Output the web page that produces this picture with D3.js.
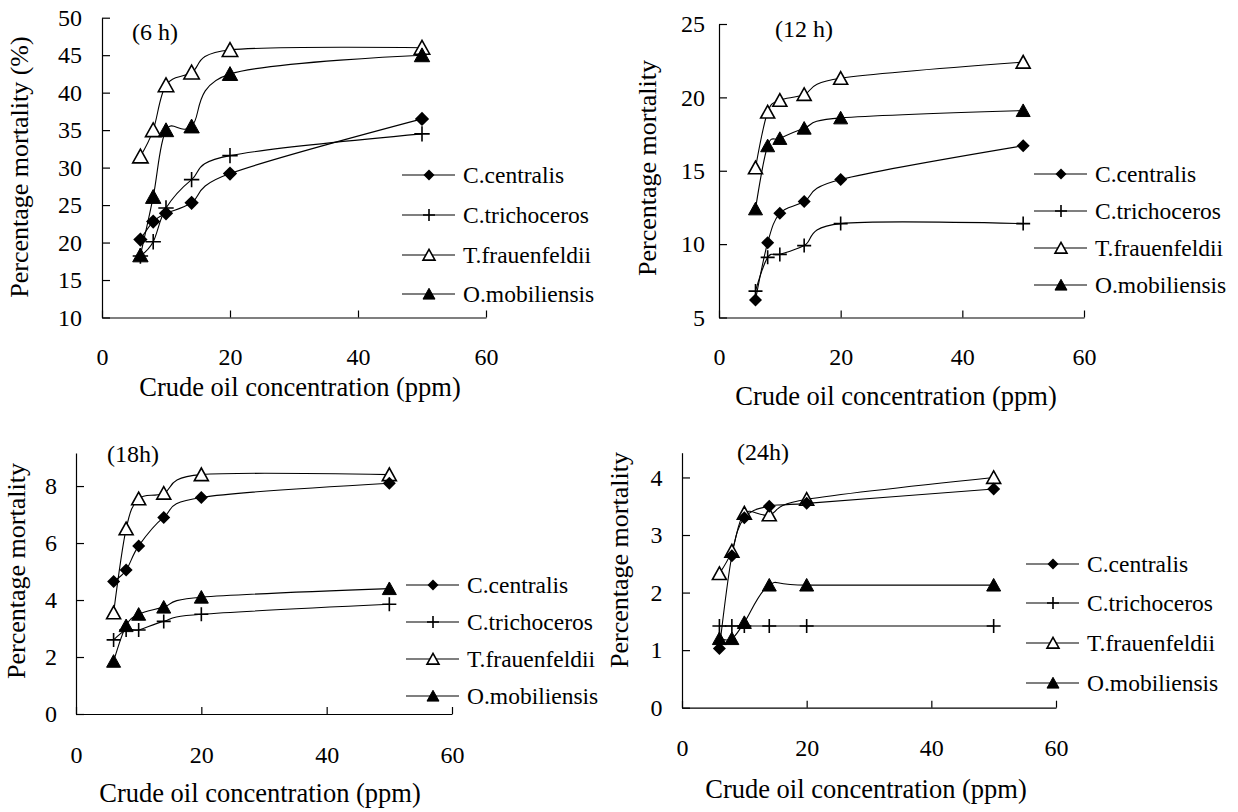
<!DOCTYPE html>
<html>
<head>
<meta charset="utf-8">
<script src="https://cdn.jsdelivr.net/npm/d3@7"></script>
<style>
  body { margin: 0; background: #fff; }
  svg { display: block; font-family: "Liberation Serif", "Times New Roman", serif; }
</style>
</head>
<body>
<div id="chart"></div>
<script>
// concentrations tested (ppm), same for every panel
let conc = [6, 8, 10, 14, 20, 50]
let species = ["C.centralis", "C.trichoceros", "T.frauenfeldii", "O.mobiliensis"]
let xTicks = [0, 20, 40, 60]

// 6 h
let cent6  = [20.4, 22.8, 23.9, 25.3, 29.2, 36.5]
let trich6 = [18.2, 20.1, 24.6, 28.4, 31.6, 34.5]
let frau6  = [31.5, 35.0, 41.0, 42.7, 45.7, 46.0]
let mob6   = [18.3, 26.1, 35.0, 35.5, 42.5, 45.0]
let yTicks6 = [10, 15, 20, 25, 30, 35, 40, 45, 50]

// 12 h
let cent12  = [6.2, 10.1, 12.1, 12.9, 14.4, 16.7]
let trich12 = [6.8, 9.1, 9.3, 9.9, 11.4, 11.4]
let frau12  = [15.2, 19.0, 19.8, 20.2, 21.3, 22.4]
let mob12   = [12.4, 16.7, 17.2, 17.9, 18.6, 19.1]
let yTicks12 = [5, 10, 15, 20, 25]

// 18 h
let cent18  = [4.65, 5.05, 5.9, 6.9, 7.6, 8.1]
let trich18 = [2.6, 2.95, 2.95, 3.25, 3.5, 3.85]
let frau18  = [3.55, 6.5, 7.55, 7.75, 8.4, 8.4]
let mob18   = [1.85, 3.1, 3.5, 3.75, 4.1, 4.4]
let yTicks18 = [0, 2, 4, 6, 8]

// 24 h
let cent24  = [1.03, 2.64, 3.3, 3.5, 3.55, 3.8]
let trich24 = [1.42, 1.42, 1.42, 1.42, 1.42, 1.42]
let frau24  = [2.33, 2.72, 3.38, 3.35, 3.62, 4.0]
let mob24   = [1.2, 1.2, 1.48, 2.13, 2.13, 2.13]
let yTicks24 = [0, 1, 2, 3, 4]

let markerTypes = ["diamond", "plus", "openTri", "tri"]

// layout of each panel (pixels)
let panels = [
  {title: "(6 h)", series: [cent6, trich6, frau6, mob6], yDomain: [10, 50], yTicks: yTicks6,
   yLabel: "Percentage mortality (%)", x0: 102, x1: 486, yB: 317.5, yT: 17.7, yPad: 20, xPad: 30,
   titleX: 132, titleY: 40, yLabX: 28, yLabY: 167, xLabX: 300, xLabY: 396,
   legX: 402, legRows: [175, 215, 255, 294], size: 1.1},
  {title: "(12 h)", series: [cent12, trich12, frau12, mob12], yDomain: [5, 25], yTicks: yTicks12,
   yLabel: "Percentage mortality", x0: 719, x1: 1084, yB: 317.5, yT: 24, yPad: 14, xPad: 30,
   titleX: 775, titleY: 37, yLabX: 656, yLabY: 168, xLabX: 896, xLabY: 405,
   legX: 1034, legRows: [174, 211, 248, 285], size: 1},
  {title: "(18h)", series: [cent18, trich18, frau18, mob18], yDomain: [0, 9.16], yTicks: yTicks18,
   yLabel: "Percentage mortality", x0: 76, x1: 452, yB: 714, yT: 453, yPad: 19, xPad: 32,
   titleX: 107, titleY: 462, yLabX: 25, yLabY: 571, xLabX: 260, xLabY: 802,
   legX: 406, legRows: [585, 622, 659, 696], size: 1},
  {title: "(24h)", series: [cent24, trich24, frau24, mob24], yDomain: [0, 4.43], yTicks: yTicks24,
   yLabel: "Percentage mortality", x0: 682, x1: 1056, yB: 707.7, yT: 452.7, yPad: 19.5, xPad: 31,
   titleX: 737, titleY: 460, yLabX: 628, yLabY: 560, xLabX: 866, xLabY: 798,
   legX: 1026, legRows: [564, 603, 643, 683], size: 1}
]

let svg = d3.select("#chart").append("svg")
            .attr("width", 1238).attr("height", 812)
svg.append("rect").attr("width", 1238).attr("height", 812).attr("fill", "#fff")

//marker shapes, centred on 0,0
function markerPath(type, s) {
  if (type == "diamond") return `M0,${-s}L${s},0L0,${s}L${-s},0Z`
  if (type == "plus") return `M${-s},0H${s}M0,${-s}V${s}`
  return `M0,${-s * 0.95}L${s},${s * 0.85}L${-s},${s * 0.85}Z`
}

function styleMarker(sel, type) {
  if (type == "diamond") sel.attr("fill", "#000").attr("stroke", "none")
  else if (type == "plus") sel.attr("fill", "none").attr("stroke", "#000").attr("stroke-width", 1.6)
  else if (type == "openTri") sel.attr("fill", "#fff").attr("stroke", "#000").attr("stroke-width", 1.6)
  else sel.attr("fill", "#000").attr("stroke", "#000").attr("stroke-width", 1)
}

let markerSize = {diamond: 6.5, plus: 7, openTri: 7, tri: 7}
let legendSize = {diamond: 5.5, plus: 6, openTri: 6, tri: 6}

panels.forEach((p) => {
  let x = d3.scaleLinear().domain([0, 60]).range([p.x0, p.x1])
  let y = d3.scaleLinear().domain(p.yDomain).range([p.yB, p.yT])
  let g = svg.append("g")

  //axes, ticks pointing inwards
  let xAxis = d3.axisBottom(x).tickValues(xTicks).tickSizeInner(-7).tickSizeOuter(0)
                .tickPadding(p.xPad).tickFormat(d3.format("d"))
  let yAxis = d3.axisLeft(y).tickValues(p.yTicks).tickSizeInner(-8).tickSizeOuter(0)
                .tickPadding(p.yPad).tickFormat(d3.format("d"))

  let gx = g.append("g").attr("transform", `translate(0,${p.yB})`).call(xAxis)
  let gy = g.append("g").attr("transform", `translate(${p.x0},0)`).call(yAxis)
  ;[gx, gy].forEach((a) => {
    a.attr("font-family", null).attr("font-size", null)
    a.selectAll("path, line").attr("stroke", "#000").attr("stroke-width", 1.2)
    a.selectAll("text").attr("fill", "#000").style("font-size", "24px")
  })

  //smoothed lines
  let line = d3.line().x((d, i) => x(conc[i])).y((d) => y(d)).curve(d3.curveCardinal.tension(0))
  p.series.forEach((vals) => {
    g.append("path").attr("d", line(vals)).attr("fill", "none")
     .attr("stroke", "#000").attr("stroke-width", 1.1)
  })

  //markers, drawn frauenfeldii first so the filled ones sit on top
  let order = [2, 3, 1, 0]
  order.forEach((k) => {
    let type = markerTypes[k]
    g.selectAll(null)
     .data(p.series[k])
     .enter()
     .append("path")
     .attr("d", markerPath(type, markerSize[type] * p.size))
     .attr("transform", (d, i) => `translate(${x(conc[i])},${y(d)})`)
     .call(styleMarker, type)
  })

  //panel title
  g.append("text").attr("x", p.titleX).attr("y", p.titleY)
   .style("font-size", "24px").text(p.title)

  //axis titles
  g.append("text")
   .attr("transform", `translate(${p.yLabX},${p.yLabY}) rotate(-90)`)
   .attr("text-anchor", "middle").style("font-size", "26px").text(p.yLabel)
  g.append("text").attr("x", p.xLabX).attr("y", p.xLabY)
   .attr("text-anchor", "middle").style("font-size", "26.5px")
   .text("Crude oil concentration (ppm)")

  //legend
  let leg = g.selectAll(".legend-row")
             .data(species)
             .enter()
             .append("g")
             .attr("class", "legend-row")
             .attr("transform", (d, i) => `translate(${p.legX},${p.legRows[i]})`)
  leg.append("line").attr("x1", 0).attr("x2", 53).attr("stroke", "#000").attr("stroke-width", 1.1)
  leg.append("path")
     .attr("d", (d, i) => markerPath(markerTypes[i], legendSize[markerTypes[i]]))
     .attr("transform", "translate(27,0)")
     .each(function (d, i) { styleMarker(d3.select(this), markerTypes[i]) })
  leg.append("text").attr("x", 61).attr("dy", "0.35em")
     .style("font-size", "23.5px").text((d) => d)
})
</script>
</body>
</html>
